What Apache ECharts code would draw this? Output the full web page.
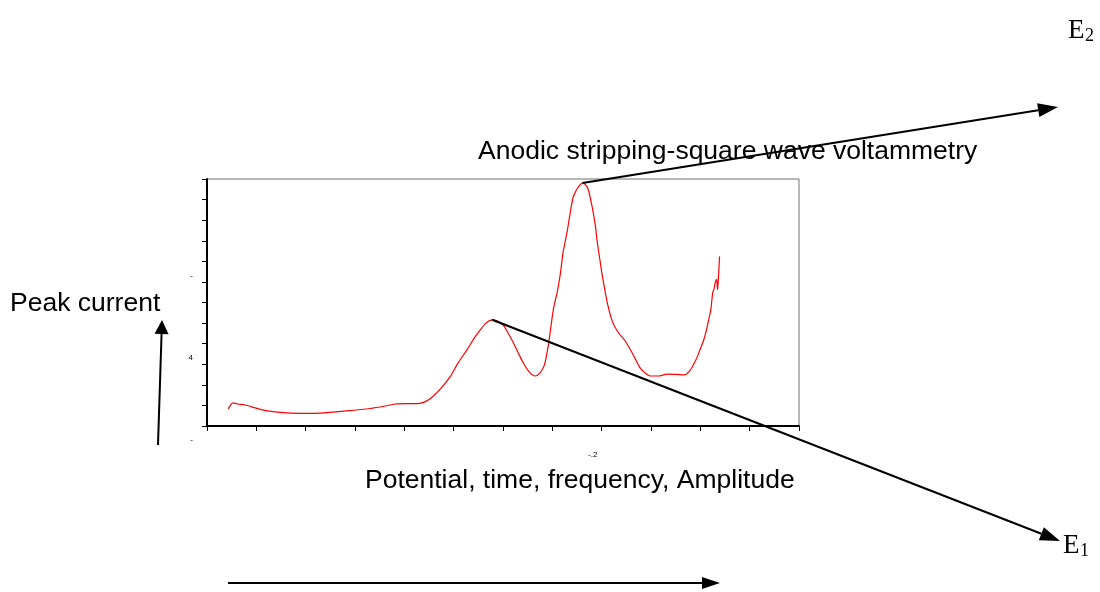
<!DOCTYPE html>
<html>
<head>
<meta charset="utf-8">
<script src="https://cdn.jsdelivr.net/npm/echarts@6/dist/echarts.min.js"></script>
<style>
    html, body { margin: 0; padding: 0; background: #fff; }
    #chart { width: 1100px; height: 592px; }
</style>
</head>
<body>
<div id="chart"></div>
<script>
// x in tick units along the axis, y in minor tick units
var potential = [0.43,0.53,0.63,0.77,0.91,1.12,1.48,1.89,2.29,2.8,
    3.31,3.61,3.81,4.02,4.26,4.42,4.58,4.75,4.93,5.09,
    5.27,5.42,5.54,5.66,5.78,5.88,6.0,6.1,6.21,6.31,
    6.41,6.53,6.65,6.75,6.84,6.92,7.02,7.1,7.16,7.22,
    7.3,7.36,7.42,7.49,7.55,7.61,7.67,7.73,7.81,7.87,
    7.91,7.97,8.01,8.11,8.22,8.34,8.46,8.56,8.66,8.78,
    8.88,8.99,9.15,9.33,9.51,9.68,9.8,9.88,9.94,10.0,
    10.07,10.14,10.16,10.2,10.22,10.25,10.28,10.3,10.33,10.35,
    10.37,10.39];
var current = [0.83,1.12,1.07,1.02,0.93,0.78,0.66,0.61,0.63,0.73,
    0.85,0.97,1.07,1.09,1.09,1.17,1.43,1.85,2.4,3.07,
    3.7,4.28,4.67,5.01,5.16,5.11,4.92,4.53,4.04,3.55,
    3.07,2.63,2.43,2.58,2.97,3.94,5.65,6.52,7.35,8.47,
    9.44,10.32,11.1,11.48,11.68,11.81,11.73,11.48,10.61,9.78,
    8.95,7.98,7.35,6.03,5.06,4.53,4.19,3.8,3.36,2.82,
    2.58,2.43,2.43,2.52,2.51,2.48,2.73,3.07,3.37,3.75,
    4.19,4.83,5.06,5.5,5.79,6.46,6.67,6.94,7.13,6.62,
    7.35,8.24];
var xTickLabels = {8: '-.2'};
var yTickLabels = {0: '-', 4: '4', 8: '-'};

var font = '"Liberation Sans", Arial, sans-serif';
var serif = '"Liberation Serif", "Times New Roman", serif';

function arrow(x1, y1, x2, y2, len, half) {
    var a = Math.atan2(y2 - y1, x2 - x1);
    var bx = x2 - len * Math.cos(a);
    var by = y2 - len * Math.sin(a);
    var nx = -Math.sin(a) * half;
    var ny = Math.cos(a) * half;
    return [
        {type: 'line', shape: {x1: x1, y1: y1, x2: bx, y2: by}, style: {stroke: '#000', lineWidth: 2}, z: 100},
        {type: 'polygon', shape: {points: [[x2, y2], [bx + nx, by + ny], [bx - nx, by - ny]]}, style: {fill: '#000'}, z: 100}
    ];
}

function text(str, x, y, size, family) {
    return {
        type: 'text', x: x, y: y, z: 100,
        style: {text: str, fill: '#000', font: size + 'px ' + family, textAlign: 'left', textVerticalAlign: 'middle'}
    };
}

var points = [];
for (var i = 0; i < potential.length; i++) {
    points.push([potential[i], current[i]]);
}

var chart = echarts.init(document.getElementById('chart'));
var option = {
    animation: false,
    grid: {
        left: 207, top: 179, right: 301, bottom: 166,
        show: true, borderColor: '#707070', borderWidth: 1
    },
    xAxis: {
        type: 'value', min: 0, max: 12, interval: 1,
        axisLine: {show: true, lineStyle: {color: '#000', width: 2}},
        axisTick: {show: true, length: 5, lineStyle: {color: '#000', width: 1}},
        axisLabel: {
            color: '#000', fontSize: 8, fontFamily: font, margin: 25, padding: [0, 18, 0, 0],
            formatter: function (v) { return xTickLabels[v] || ''; }
        },
        splitLine: {show: false}
    },
    yAxis: {
        type: 'value', min: 0, max: 12, interval: 1,
        axisLine: {show: true, lineStyle: {color: '#000', width: 2}},
        axisTick: {show: true, length: 5, lineStyle: {color: '#000', width: 1}},
        axisLabel: {
            color: '#000', fontSize: 8, fontFamily: font, margin: 14,
            verticalAlign: 'top', lineHeight: 28,
            formatter: function (v) { return yTickLabels[v] || ''; }
        },
        splitLine: {show: false}
    },
    series: [{
        type: 'line',
        data: points,
        showSymbol: false,
        smooth: 0.25,
        lineStyle: {color: '#ff0000', width: 1.2}
    }]
};
chart.setOption(option);

// peaks: the tallest overall (E2) and the tallest before the dip (E1)
var i2 = 0, i1 = 0;
for (var i = 0; i < current.length; i++) {
    if (current[i] > current[i2]) i2 = i;
    if (potential[i] < 6.5 && current[i] > current[i1]) i1 = i;
}
var p1 = chart.convertToPixel({gridIndex: 0}, points[i1]);
var p2 = chart.convertToPixel({gridIndex: 0}, points[i2]);

var graphic = [];
graphic = graphic.concat(arrow(p1[0], p1[1], 1060, 541, 20, 7));
graphic = graphic.concat(arrow(p2[0], p2[1], 1058, 107, 20, 7));
graphic = graphic.concat(arrow(158, 445, 162, 320, 14, 7));
graphic = graphic.concat(arrow(228, 583, 720, 583, 18, 6));
graphic.push(text('Anodic stripping-square wave voltammetry', 478, 152, 26.5, font));
graphic.push(text('Peak current', 10, 304, 26.5, font));
graphic.push(text('Potential, time, frequency, Amplitude', 365, 481, 26.5, font));
graphic.push(text('E', 1068, 31, 27, serif));
graphic.push(text('2', 1085, 36, 18, serif));
graphic.push(text('E', 1063, 546, 27, serif));
graphic.push(text('1', 1080, 551, 18, serif));
chart.setOption({graphic: graphic});
</script>
</body>
</html>
